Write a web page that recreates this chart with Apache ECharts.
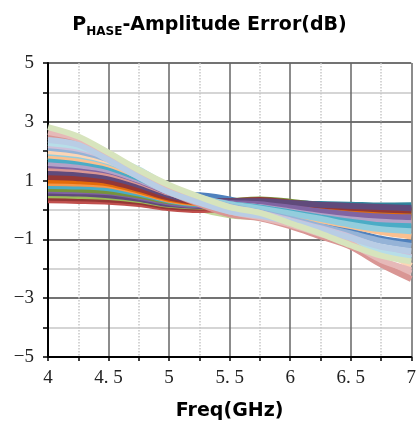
<!DOCTYPE html>
<html>
  <head>
    <meta charset="utf-8" />
    <title>Phase-Amplitude Error</title>
    <script src="https://cdn.jsdelivr.net/npm/echarts@6/dist/echarts.min.js"></script>
    <style>
      html, body { margin: 0; padding: 0; background: #fff; }
    </style>
  </head>
  <body>
    <div id="main" style="width: 419px; height: 427px"></div>

    <script>
      // 频点 (GHz)
      var freqs = [4, 4.25, 4.5, 4.75, 5, 5.25, 5.5, 5.75, 6, 6.25, 6.5, 6.75, 7];

      // 各通道幅度误差 (dB)，颜色按 Excel 调色板
      var colors = [
        "#4F81BD", "#31859C", "#376092", "#C3D69B",
        "#C0504D", "#953735", "#9BBB59", "#604A7B", "#8064A2", "#77933C",
        "#4BACC6", "#F79646", "#E46C0A", "#953735", "#604A7B",
        "#D99694", "#8064A2", "#B3A2C7", "#4BACC6", "#FAC090", "#93CDDD", "#FCD5B5",
        "#95B3D7", "#CCC1DA", "#B7DEE8", "#E6B9B8", "#D99694", "#E6B9B8", "#B9CDE5", "#D7E4BD"
      ];
      var values = [
        [1.15, 1.10, 0.98, 0.76, 0.55, 0.50, 0.36, 0.10, -0.20, -0.50, -0.72, -0.98, -1.12],
        [0.95, 0.92, 0.85, 0.65, 0.40, 0.28, 0.28, 0.30, 0.25, 0.20, 0.18, 0.15, 0.16],
        [0.88, 0.86, 0.80, 0.60, 0.36, 0.26, 0.30, 0.30, 0.22, 0.14, 0.10, 0.08, 0.08],
        [1.80, 1.65, 1.40, 0.95, 0.45, 0.05, -0.18, -0.25, -0.30, -0.38, -0.35, -0.35, -0.38],
        [0.33, 0.31, 0.28, 0.20, 0.06, 0.00, 0.05, 0.12, 0.10, 0.00, -0.05, -0.10, -0.15],
        [0.42, 0.40, 0.36, 0.28, 0.12, 0.08, 0.15, 0.28, 0.22, 0.12, 0.05, 0.00, -0.05],
        [0.50, 0.48, 0.44, 0.34, 0.18, 0.12, 0.22, 0.30, 0.22, 0.10, -0.02, -0.12, -0.20],
        [0.58, 0.56, 0.50, 0.38, 0.20, 0.14, 0.20, 0.25, 0.18, 0.10, 0.05, 0.02, 0.00],
        [0.66, 0.64, 0.60, 0.45, 0.25, 0.16, 0.20, 0.22, 0.15, 0.05, -0.05, -0.10, -0.12],
        [0.72, 0.70, 0.64, 0.50, 0.30, 0.22, 0.30, 0.36, 0.28, 0.15, 0.02, -0.05, -0.10],
        [0.82, 0.80, 0.74, 0.56, 0.32, 0.20, 0.22, 0.20, 0.10, -0.05, -0.15, -0.25, -0.30],
        [0.92, 0.90, 0.84, 0.62, 0.35, 0.22, 0.20, 0.15, 0.05, -0.08, -0.20, -0.28, -0.32],
        [1.00, 0.98, 0.90, 0.66, 0.38, 0.24, 0.22, 0.18, 0.10, 0.00, -0.10, -0.18, -0.22],
        [1.12, 1.08, 0.98, 0.72, 0.42, 0.28, 0.30, 0.34, 0.25, 0.15, 0.08, 0.02, -0.02],
        [1.28, 1.24, 1.12, 0.85, 0.50, 0.32, 0.30, 0.30, 0.24, 0.18, 0.14, 0.10, 0.06],
        [1.43, 1.38, 1.25, 0.95, 0.58, 0.35, 0.22, 0.15, 0.02, -0.12, -0.25, -0.35, -0.40],
        [1.52, 1.46, 1.32, 1.00, 0.60, 0.36, 0.24, 0.20, 0.08, -0.05, -0.15, -0.22, -0.25],
        [1.60, 1.52, 1.36, 1.02, 0.62, 0.36, 0.20, 0.10, -0.05, -0.20, -0.32, -0.40, -0.45],
        [1.73, 1.64, 1.45, 1.08, 0.65, 0.38, 0.20, 0.08, -0.08, -0.25, -0.40, -0.52, -0.55],
        [1.85, 1.75, 1.55, 1.15, 0.68, 0.38, 0.15, 0.00, -0.15, -0.35, -0.55, -0.75, -0.90],
        [1.95, 1.85, 1.62, 1.22, 0.72, 0.42, 0.20, 0.05, -0.12, -0.30, -0.50, -0.65, -0.72],
        [2.00, 1.90, 1.66, 1.25, 0.75, 0.40, 0.10, -0.12, -0.35, -0.60, -0.90, -1.35, -1.90],
        [2.12, 2.00, 1.72, 1.30, 0.78, 0.42, 0.12, -0.08, -0.30, -0.55, -0.80, -1.05, -1.22],
        [2.20, 2.08, 1.78, 1.35, 0.80, 0.42, 0.10, -0.10, -0.35, -0.62, -0.92, -1.30, -1.60],
        [2.28, 2.15, 1.82, 1.38, 0.80, 0.40, 0.08, -0.15, -0.40, -0.70, -1.00, -1.40, -1.65],
        [2.48, 2.32, 1.80, 1.25, 0.70, 0.30, -0.10, -0.25, -0.50, -0.85, -1.20, -1.75, -2.15],
        [2.56, 2.38, 1.82, 1.22, 0.62, 0.20, -0.15, -0.28, -0.55, -0.90, -1.25, -1.85, -2.35],
        [2.65, 2.42, 1.86, 1.28, 0.72, 0.32, -0.05, -0.25, -0.50, -0.82, -1.15, -1.70, -2.05],
        [2.38, 2.22, 1.70, 1.12, 0.60, 0.25, -0.05, -0.20, -0.40, -0.65, -0.95, -1.25, -1.40],
        [2.82, 2.50, 1.95, 1.36, 0.85, 0.45, 0.10, -0.10, -0.45, -0.80, -1.20, -1.55, -1.75]
      ];

      var xTicks = [4, 4.5, 5, 5.5, 6, 6.5, 7];

      var seriesList = values.map(function (vals, i) {
        return {
          type: "line",
          smooth: 0.3,
          symbol: "none",
          data: vals.map(function (v, j) { return [freqs[j], v]; }),
          lineStyle: { color: colors[i], width: 6 },
          itemStyle: { color: colors[i] }
        };
      });

      var serif = "Liberation Serif";

      var myChart = echarts.init(document.getElementById("main"));
      var option = {
        animation: false,
        title: {
          text: "{a|P}{b|HASE}{a|-Amplitude Error(dB)}",
          left: "center",
          top: 7,
          textStyle: {
            rich: {
              a: { fontFamily: "DejaVu Sans", fontWeight: "bold", fontSize: 19, color: "#000", lineHeight: 26 },
              b: { fontFamily: "DejaVu Sans", fontWeight: "bold", fontSize: 12, color: "#000", lineHeight: 15, verticalAlign: "bottom" }
            }
          }
        },
        grid: { left: 48, right: 6, top: 63, bottom: 70 },
        xAxis: {
          type: "value",
          min: 4,
          max: 7,
          interval: 0.5,
          name: "Freq(GHz)",
          nameLocation: "middle",
          nameGap: 45,
          nameTextStyle: { fontFamily: "DejaVu Sans", fontWeight: "bold", fontSize: 19, color: "#000" },
          axisLine: { onZero: false, lineStyle: { color: "#000", width: 2 } },
          axisTick: { show: true, length: 4, lineStyle: { color: "#000", width: 1.5 } },
          minorTick: { show: true, splitNumber: 2, length: 4, lineStyle: { color: "#000", width: 1.5 } },
          axisLabel: {
            margin: 12,
            fontFamily: serif,
            fontSize: 19,
            color: "#222",
            customValues: xTicks,
            formatter: function (v) { return String(v).replace(".", ". "); }
          },
          splitLine: { show: true, lineStyle: { color: "#666", width: 1.5 } },
          minorSplitLine: { show: true, lineStyle: { color: "#c8c8c8", width: 1.5, type: "dotted" } }
        },
        yAxis: {
          type: "value",
          min: -5,
          max: 5,
          interval: 2,
          axisLine: { show: true, onZero: false, lineStyle: { color: "#000", width: 2 } },
          axisTick: { show: true, length: 5, lineStyle: { color: "#000", width: 1.5 } },
          minorTick: { show: true, splitNumber: 2, length: 5, lineStyle: { color: "#000", width: 1.5 } },
          axisLabel: {
            margin: 14,
            fontFamily: serif,
            fontSize: 19,
            color: "#222",
            formatter: function (v) { return String(v).replace("-", "\u2212"); }
          },
          splitLine: { show: true, lineStyle: { color: "#444", width: 1.5 } },
          minorSplitLine: { show: true, lineStyle: { color: "#c8c8c8", width: 1.5 } }
        },
        series: seriesList
      };
      myChart.setOption(option);
    </script>
  </body>
</html>
